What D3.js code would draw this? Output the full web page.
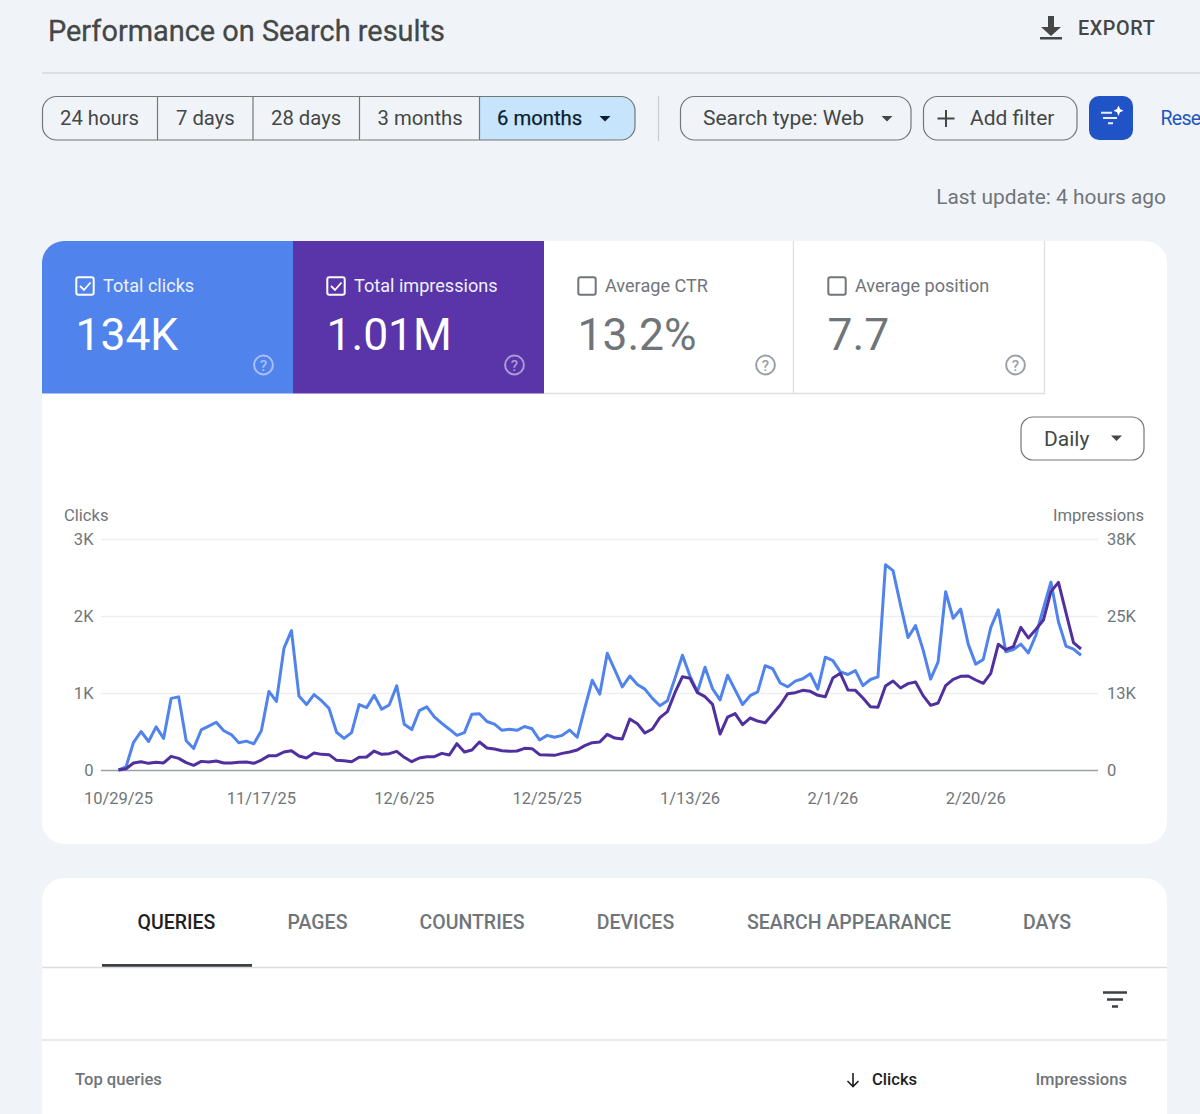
<!DOCTYPE html>
<html>
<head>
<meta charset="utf-8">
<title>Performance on Search results</title>
<script src="https://cdn.jsdelivr.net/npm/d3@7"></script>
<style>
  html, body { margin: 0; padding: 0; background: #f0f4f9; overflow: hidden; }
  svg { display: block; font-family: Roboto, sans-serif; }
  text { font-family: Roboto, sans-serif; }
</style>
</head>
<body>
<svg id="page" width="1200" height="1114"></svg>
<script>
// Chart data, one value per day starting 10/29/25
var startDate = new Date(2025, 9, 29);
var clicks = [0, 40, 360, 500, 370, 560, 410, 930, 950, 380,
  280, 520, 570, 620, 510, 460, 355, 375, 340, 510,
  1020, 890, 1580, 1810, 960, 850, 980, 900, 800, 490,
  410, 485, 850, 810, 970, 790, 845, 1095, 595, 525,
  770, 820, 690, 605, 530, 450, 485, 725, 730, 630,
  595, 515, 530, 515, 565, 535, 390, 450, 425, 450,
  520, 425, 800, 1165, 985, 1515, 1300, 1080, 1220, 1110,
  1050, 930, 835, 900, 1190, 1490, 1220, 1015, 1335, 1055,
  910, 1230, 1040, 850, 965, 1015, 1355, 1315, 1130, 1080,
  1155, 1185, 1250, 1050, 1465, 1420, 1275, 1240, 1290, 1095,
  1175, 1210, 2665, 2590, 2145, 1720, 1875, 1560, 1180, 1405,
  2315, 1970, 2090, 1635, 1375, 1435, 1850, 2080, 1535, 1565,
  1635, 1520, 1750, 2100, 2440, 1925, 1610, 1570, 1490];
var impressions = [0, 200, 1140, 1350, 1080, 1240, 1140, 2220, 1890, 1190,
  760, 1400, 1300, 1460, 1140, 1140, 1240, 1300, 1080, 1620,
  2330, 2330, 2920, 3140, 2270, 1950, 2760, 2540, 2490, 1570,
  1515, 1350, 2060, 2110, 3080, 2540, 2650, 3030, 2060, 1350,
  1950, 2160, 2160, 2700, 2435, 4270, 2920, 3250, 4545, 3570,
  3400, 3140, 3030, 3085, 3515, 3460, 2490, 2435, 2380, 2700,
  2920, 3250, 3950, 4435, 4545, 5790, 5190, 5030, 8280, 7520,
  6000, 6650, 8500, 9470, 12550, 15150, 14880, 12550, 11900, 10660,
  5840, 8600, 9150, 7360, 8440, 7950, 7680, 9090, 10550, 12390,
  12550, 12930, 12770, 12120, 11900, 14930, 15690, 12990, 12930, 11690,
  10280, 10170, 13630, 14450, 13310, 14020, 14280, 12070, 10500, 10880,
  13690, 14710, 15200, 15260, 14610, 14070, 15690, 20400, 19530, 20020,
  23160, 21430, 22830, 24350, 28950, 30460, 25540, 20670, 19640];

// Tick values and their labels
var dateTickDays = [0, 19, 38, 57, 76, 95, 114];
var dateTickLabels = ["10/29/25", "11/17/25", "12/6/25", "12/25/25", "1/13/26", "2/1/26", "2/20/26"];
var clickTicks = [0, 1000, 2000, 3000];
var clickTickLabels = ["0", "1K", "2K", "3K"];
var imprTicks = [0, 12500, 25000, 37500];
var imprTickLabels = ["0", "13K", "25K", "38K"];

// Labels for the page furniture
var rangeLabels = ["24 hours", "7 days", "28 days", "3 months", "6 months"];
var tileLabels = ["Total clicks", "Total impressions", "Average CTR", "Average position"];
var tileValues = ["134K", "1.01M", "13.2%", "7.7"];
var tabLabels = ["QUERIES", "PAGES", "COUNTRIES", "DEVICES", "SEARCH APPEARANCE", "DAYS"];

var blue = "#5083ec";
var purple = "#5935a9";
var grey = "#70757a";
var dark = "#444746";
var outline = "#747775";

var svg = d3.select("#page");

/* ******** Helpers ******** */
function label(parent, x, y, str, size, color, anchor, weight) {
  return parent.append("text")
    .attr("x", x).attr("y", y)
    .attr("font-size", size)
    .attr("fill", color)
    .attr("text-anchor", anchor || "start")
    .attr("font-weight", weight || 400)
    .text(str);
}

function chip(x0, x1, y0, y1, r) {
  return svg.append("rect")
    .attr("x", x0).attr("y", y0)
    .attr("width", x1 - x0).attr("height", y1 - y0)
    .attr("rx", r).attr("fill", "none")
    .attr("stroke", outline).attr("stroke-width", 1.2);
}

function caret(cx, cy, color) {
  svg.append("path")
    .attr("d", "M" + (cx - 5.5) + "," + (cy - 2.5) + "h11l-5.5,5.5z")
    .attr("fill", color);
}

/* ******** Header ******** */
label(svg, 48, 41, "Performance on Search results", 28.9, dark)
  .attr("stroke", dark).attr("stroke-width", 0.3);
svg.append("path").attr("d", "M1041,27h7v-11h6v11h7l-10,9zM1040,37h22v2.6h-22z").attr("fill", dark);
label(svg, 1078, 35, "EXPORT", 19.8, dark, "start", 500).attr("letter-spacing", 0.6);
svg.append("line").attr("x1", 42).attr("x2", 1200).attr("y1", 73).attr("y2", 73)
  .attr("stroke", "#c9cbcd").attr("stroke-width", 1.2);

/* ******** Date range buttons ******** */
var rangeEdges = [42, 157.5, 253, 359.5, 479.5, 635];
var rangeTextX = [60, 176, 271, 377.5, 497];
svg.append("path")
  .attr("d", "M479.5,96.5H621a14,14 0 0 1 14,14V126a14,14 0 0 1 -14,14H479.5z")
  .attr("fill", "#c7e4fd");
chip(42.5, 635, 96.5, 140, 14);
rangeEdges.slice(1, 5).forEach(function (x) {
  svg.append("line").attr("x1", x).attr("x2", x).attr("y1", 97).attr("y2", 140)
    .attr("stroke", outline).attr("stroke-width", 1.2);
});
rangeLabels.forEach(function (d, i) {
  label(svg, rangeTextX[i], 125, d, 20.3, i == 4 ? "#0b1d30" : dark);
});
svg.selectAll("text").filter(function () { return this.textContent == "6 months"; })
  .attr("stroke", "#0b1d30").attr("stroke-width", 0.25);
caret(605, 118.5, "#0b1d30");

/* ******** Filters ******** */
svg.append("line").attr("x1", 658.5).attr("x2", 658.5).attr("y1", 96).attr("y2", 141)
  .attr("stroke", "#c9cbcd").attr("stroke-width", 1.2);
chip(680.5, 911, 96.5, 140, 14);
label(svg, 703, 125, "Search type: Web", 21, dark);
caret(887, 118.5, dark);
chip(923.5, 1077, 96.5, 140, 14);
svg.append("path").attr("d", "M946,110v17M937.5,118.5h17").attr("stroke", dark).attr("stroke-width", 2).attr("fill", "none");
label(svg, 970, 125, "Add filter", 21, dark);
svg.append("rect").attr("x", 1089).attr("y", 96).attr("width", 44).attr("height", 44).attr("rx", 10).attr("fill", "#2053c6");
svg.append("path").attr("d", "M1101,112.8h11M1103,118h14M1108,123.2h5")
  .attr("stroke", "#e8eefb").attr("stroke-width", 1.9).attr("fill", "none");
svg.append("path").attr("d", "M1118.5,105.5l1.5,3.6 3.6,1.6 -3.6,1.6 -1.5,3.6 -1.5,-3.6 -3.6,-1.6 3.6,-1.6z").attr("fill", "#fff");
label(svg, 1160.5, 125, "Rese", 19.5, "#1f56c0").attr("letter-spacing", -0.7);
label(svg, 1166, 204, "Last update: 4 hours ago", 20.9, grey, "end");

/* ******** Chart card ******** */
svg.append("rect").attr("x", 42).attr("y", 241).attr("width", 1125).attr("height", 603).attr("rx", 22).attr("fill", "#fff");

var tileEdges = [42, 293, 544, 794, 1045];
var tileFill = [blue, purple, "#fff", "#fff"];
tileLabels.forEach(function (d, i) {
  var x0 = tileEdges[i], x1 = tileEdges[i + 1], on = i < 2;
  var fg = on ? "#fff" : grey;
  var path = i == 0
    ? "M42,393.5V263a22,22 0 0 1 22,-22H293V393.5z"
    : "M" + x0 + ",241H" + x1 + "V393.5H" + x0 + "z";
  svg.append("path").attr("d", path).attr("fill", tileFill[i]);
  if (!on) {
    svg.append("path").attr("d", "M" + (x1 - 0.5) + ",241V393.5H" + x0).attr("fill", "none").attr("stroke", "#e0e0e0").attr("stroke-width", 1.4);
  }
  // checkbox
  svg.append("rect").attr("x", x0 + 34.3).attr("y", 277.3).attr("width", 17.4).attr("height", 17.4).attr("rx", 2)
    .attr("fill", "none").attr("stroke", fg).attr("stroke-width", 2);
  if (on) {
    svg.append("path").attr("d", "M" + (x0 + 38) + ",286l4,4 6.5,-7.5").attr("fill", "none").attr("stroke", "#fff").attr("stroke-width", 1.8);
  }
  label(svg, x0 + 61, 292, d, 18.1, on ? "#eef1fb" : grey);
  label(svg, x0 + 33.5, 350, tileValues[i], 44.4, on ? "#fff" : grey);
  // help icon
  var ic = on ? "rgba(255,255,255,0.5)" : "#9aa0a6";
  svg.append("circle").attr("cx", x0 + 221.5).attr("cy", 365).attr("r", 9.4).attr("fill", "none").attr("stroke", ic).attr("stroke-width", 2);
  label(svg, x0 + 221.5, 370.5, "?", 15, ic, "middle", 500);
});

chip(1021, 1144, 417, 460, 12);
label(svg, 1044, 446, "Daily", 21, dark);
caret(1116.5, 438, dark);

/* ******** Line chart ******** */
var plot = { left: 101, right: 1098, top: 539, bottom: 770 };
var x = d3.scaleTime()
  .domain([startDate, d3.timeDay.offset(startDate, 128)])
  .range([118.5, 1081]);
var yClicks = d3.scaleLinear().domain([0, 3000]).range([plot.bottom, plot.top]);
var yImpr = d3.scaleLinear().domain([0, 37500]).range([plot.bottom, plot.top]);

function dayOf(i) { return d3.timeDay.offset(startDate, i); }

var axisLeft = d3.axisLeft(yClicks).tickValues(clickTicks)
  .tickSize(-(plot.right - plot.left)).tickPadding(7.5)
  .tickFormat(function (d, i) { return clickTickLabels[i]; });
var gLeft = svg.append("g").attr("transform", "translate(" + plot.left + ",0)").call(axisLeft);
gLeft.select(".domain").remove();
gLeft.selectAll("line").attr("stroke", function (d) { return d == 0 ? "#9aa0a6" : "#eeeeee"; }).attr("stroke-width", 1.4);

var axisRight = d3.axisRight(yImpr).tickValues(imprTicks)
  .tickSize(0).tickPadding(9)
  .tickFormat(function (d, i) { return imprTickLabels[i]; });
var gRight = svg.append("g").attr("transform", "translate(" + plot.right + ",0)").call(axisRight);
gRight.select(".domain").remove();

var axisDates = d3.axisBottom(x).tickValues(dateTickDays.map(dayOf))
  .tickSize(0).tickPadding(22)
  .tickFormat(function (d, i) { return dateTickLabels[i]; });
var gBottom = svg.append("g").attr("transform", "translate(-0.5," + plot.bottom + ")").call(axisDates);
gBottom.select(".domain").remove();

svg.selectAll(".tick text")
  .attr("font-family", "Roboto, sans-serif").attr("font-size", 16.5).attr("fill", grey);

label(svg, 64, 521, "Clicks", 16.6, grey);
label(svg, 1144, 521, "Impressions", 16.6, grey, "end");

var lineClicks = d3.line().x(function (d, i) { return x(dayOf(i)); }).y(function (d) { return yClicks(d); });
var lineImpr = d3.line().x(function (d, i) { return x(dayOf(i)); }).y(function (d) { return yImpr(d); });

svg.append("path").datum(clicks).attr("d", lineClicks)
  .attr("fill", "none").attr("stroke", blue).attr("stroke-width", 3).attr("stroke-linejoin", "round");
svg.append("path").datum(impressions).attr("d", lineImpr)
  .attr("fill", "none").attr("stroke", "#50309f").attr("stroke-width", 3).attr("stroke-linejoin", "round");

/* ******** Table card ******** */
svg.append("path").attr("d", "M42,1114V900a22,22 0 0 1 22,-22H1145a22,22 0 0 1 22,22V1114z").attr("fill", "#fff");
var tabCentres = [176.5, 317.5, 472, 635.5, 849, 1047];
tabLabels.forEach(function (d, i) {
  label(svg, tabCentres[i], 929, d, 19.5, i == 0 ? "#1f1f1f" : grey, "middle", 500);
});
svg.append("rect").attr("x", 102).attr("y", 964).attr("width", 150).attr("height", 3).attr("fill", "#3c4043");
svg.append("line").attr("x1", 42).attr("x2", 1167).attr("y1", 967.5).attr("y2", 967.5).attr("stroke", "#dcdcdc").attr("stroke-width", 1.4);
svg.append("path").attr("d", "M1103,992.5h24M1107,999.5h16M1112,1006.5h6").attr("stroke", "#3c4043").attr("stroke-width", 2.6).attr("fill", "none");
svg.append("line").attr("x1", 42).attr("x2", 1167).attr("y1", 1040).attr("y2", 1040).attr("stroke", "#e3e3e3").attr("stroke-width", 1.6);
label(svg, 75, 1085, "Top queries", 16.6, grey, "start", 500);
svg.append("path").attr("d", "M853,1073v13M847.5,1081l5.5,5.5 5.5,-5.5").attr("stroke", "#1f1f1f").attr("stroke-width", 1.6).attr("fill", "none");
label(svg, 872, 1085, "Clicks", 16.6, "#1f1f1f", "start", 500);
label(svg, 1127, 1085, "Impressions", 16.6, grey, "end", 500);
</script>
</body>
</html>
